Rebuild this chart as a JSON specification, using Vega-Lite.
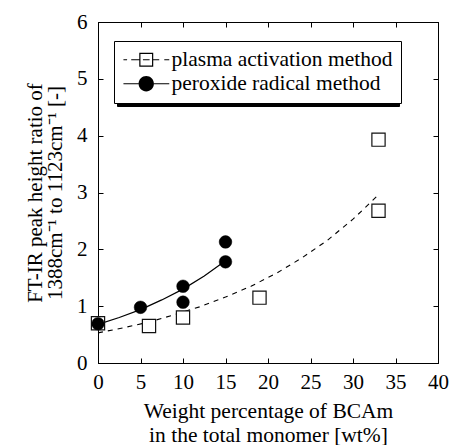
{
  "$schema": "https://vega.github.io/schema/vega-lite/v6.json",
  "width": 340,
  "height": 341,
  "autosize": "none",
  "padding": {"left": 98, "top": 22, "right": 12, "bottom": 82},
  "background": "white",
  "datasets": {
    "pts": [
      {"series": "plasma activation method", "x": 0, "y": 0.7},
      {"series": "plasma activation method", "x": 6, "y": 0.65},
      {"series": "plasma activation method", "x": 10, "y": 0.8},
      {"series": "plasma activation method", "x": 19, "y": 1.15},
      {"series": "plasma activation method", "x": 33, "y": 2.68},
      {"series": "plasma activation method", "x": 33, "y": 3.93},
      {"series": "peroxide radical method", "x": 0, "y": 0.69},
      {"series": "peroxide radical method", "x": 5, "y": 0.98},
      {"series": "peroxide radical method", "x": 10, "y": 1.35},
      {"series": "peroxide radical method", "x": 10, "y": 1.07},
      {"series": "peroxide radical method", "x": 15, "y": 1.78},
      {"series": "peroxide radical method", "x": 15, "y": 2.13}
    ],
    "fit": [
      {"series": "plasma activation method", "x": 0, "y": 0.53},
      {"series": "plasma activation method", "x": 3, "y": 0.62},
      {"series": "plasma activation method", "x": 6, "y": 0.72},
      {"series": "plasma activation method", "x": 9, "y": 0.85},
      {"series": "plasma activation method", "x": 12, "y": 0.99},
      {"series": "plasma activation method", "x": 15, "y": 1.16},
      {"series": "plasma activation method", "x": 18, "y": 1.35},
      {"series": "plasma activation method", "x": 21, "y": 1.58},
      {"series": "plasma activation method", "x": 24, "y": 1.85},
      {"series": "plasma activation method", "x": 27, "y": 2.16},
      {"series": "plasma activation method", "x": 30, "y": 2.53},
      {"series": "plasma activation method", "x": 33, "y": 2.96},
      {"series": "peroxide radical method", "x": 0, "y": 0.68},
      {"series": "peroxide radical method", "x": 2.5, "y": 0.8},
      {"series": "peroxide radical method", "x": 5, "y": 0.94},
      {"series": "peroxide radical method", "x": 7.5, "y": 1.11},
      {"series": "peroxide radical method", "x": 10, "y": 1.3},
      {"series": "peroxide radical method", "x": 12.5, "y": 1.53},
      {"series": "peroxide radical method", "x": 15, "y": 1.8}
    ]
  },
  "layer": [
    {
      "data": {"name": "fit"},
      "transform": [{"filter": "datum.series === 'plasma activation method'"}],
      "mark": {"type": "line", "stroke": "black", "strokeWidth": 1.1, "strokeDash": [5, 5]},
      "encoding": {
        "x": {"field": "x", "type": "quantitative", "scale": {"domain": [0, 40], "nice": false},
          "axis": {"orient": "bottom", "values": [0, 5, 10, 15, 20, 25, 30, 35, 40], "labelFlush": false, "labelPadding": 13, "title": ["Weight percentage of BCAm", "in the total monomer [wt%]"], "titleFontSize": 21.5, "titleLineHeight": 24, "titlePadding": 8}},
        "y": {"field": "y", "type": "quantitative", "scale": {"domain": [0, 6], "nice": false},
          "axis": {"orient": "left", "values": [0, 1, 2, 3, 4, 5, 6], "labelFlush": false, "labelPadding": 16, "title": ["FT-IR peak height ratio of", "1388cm⁻¹ to 1123cm⁻¹ [-]"], "titleFontSize": 21, "titleLineHeight": 20, "titlePadding": 11}}
      }
    },
    {
      "data": {"name": "fit"},
      "transform": [{"filter": "datum.series === 'peroxide radical method'"}],
      "mark": {"type": "line", "strokeWidth": 1.2},
      "encoding": {
        "x": {"field": "x", "type": "quantitative", "axis": null},
        "y": {"field": "y", "type": "quantitative", "axis": null},
        "color": {"field": "series", "type": "nominal",
          "scale": {"domain": ["peroxide radical method", "plasma activation method"], "range": ["black", "black"]},
          "legend": {"orient": "none", "legendX": 19, "legendY": 22, "title": null, "strokeColor": "black", "fillColor": "black", "padding": 8, "labelFontSize": 21.5, "labelColor": "black", "labelLimit": 400, "labelExpr": "' '", "labelOffset": 243.6, "rowPadding": 1, "symbolType": "stroke", "symbolSize": 177, "symbolStrokeColor": "black", "symbolStrokeWidth": 1.2}}
      }
    },
    {
      "data": {"name": "pts"},
      "transform": [{"filter": "datum.series === 'plasma activation method'"}],
      "mark": {"type": "point", "shape": "square", "filled": true, "fill": "white", "stroke": "#111", "strokeWidth": 1.2, "size": 175, "opacity": 1},
      "encoding": {
        "x": {"field": "x", "type": "quantitative", "axis": {"orient": "top", "values": [0, 5, 10, 15, 20, 25, 30, 35, 40], "labels": false, "title": null}},
        "y": {"field": "y", "type": "quantitative", "axis": {"orient": "right", "values": [0, 1, 2, 3, 4, 5, 6], "labels": false, "title": null}}
      }
    },
    {
      "data": {"name": "pts"},
      "transform": [{"filter": "datum.series === 'peroxide radical method'"}],
      "mark": {"type": "point", "shape": "circle", "filled": true, "fill": "black", "stroke": "black", "strokeWidth": 0.5, "size": 160, "opacity": 1},
      "encoding": {
        "x": {"field": "x", "type": "quantitative", "axis": null},
        "y": {"field": "y", "type": "quantitative", "axis": null}
      }
    },
    {
      "data": {"name": "pts"},
      "mark": {"type": "point", "filled": true, "color": "black", "strokeWidth": 0, "size": 177, "opacity": 0},
      "encoding": {
        "x": {"field": "x", "type": "quantitative", "axis": null},
        "y": {"field": "y", "type": "quantitative", "axis": null},
        "shape": {"field": "series", "type": "nominal",
          "scale": {"domain": ["plasma activation method", "peroxide radical method"],
            "range": [
              "M-1.4,-0.083L-0.85,-0.083L-0.85,0.083L-1.4,0.083ZM-0.23,-0.083L0.98,-0.083L0.98,0.083L-0.23,0.083ZM0.98,-1.05L3.08,-1.05L3.08,1.05L0.98,1.05ZM1.16,-0.87L1.16,0.87L2.9,0.87L2.9,-0.87ZM1.53,-0.083L2.53,-0.083L2.53,0.083L1.53,0.083ZM3.08,-0.083L3.98,-0.083L3.98,0.083L3.08,0.083ZM4.74,-0.083L5.49,-0.083L5.49,0.083L4.74,0.083Z",
              "M-1.4,-0.09L0.88,-0.09L0.88,0.09L-1.4,0.09ZM3.18,-0.09L5.49,-0.09L5.49,0.09L3.18,0.09ZM3.18,0A1.15,1.15 0 1,1 0.88,0A1.15,1.15 0 1,1 3.18,0Z"
            ]},
          "legend": {"orient": "none", "legendX": 16, "legendY": 19, "title": null, "strokeColor": "black", "fillColor": "white", "padding": 8, "labelFontSize": 21.5, "labelColor": "black", "labelLimit": 400, "labelOffset": 28, "rowPadding": 1, "symbolSize": 177, "symbolOpacity": 1, "symbolFillColor": "black", "symbolStrokeWidth": 0}}
      }
    }
  ],
  "resolve": {"axis": {"x": "independent", "y": "independent"}},
  "config": {
    "font": "Liberation Serif",
    "view": {"stroke": "black", "strokeWidth": 1},
    "axis": {
      "grid": false,
      "domainColor": "black",
      "tickColor": "black",
      "labelColor": "black",
      "titleColor": "black",
      "labelFont": "Liberation Serif",
      "titleFont": "Liberation Serif",
      "labelFontSize": 21,
      "titleFontWeight": "normal",
      "tickSize": -5
    },
    "legend": {"labelFont": "Liberation Serif", "labelColor": "black"}
  }
}
